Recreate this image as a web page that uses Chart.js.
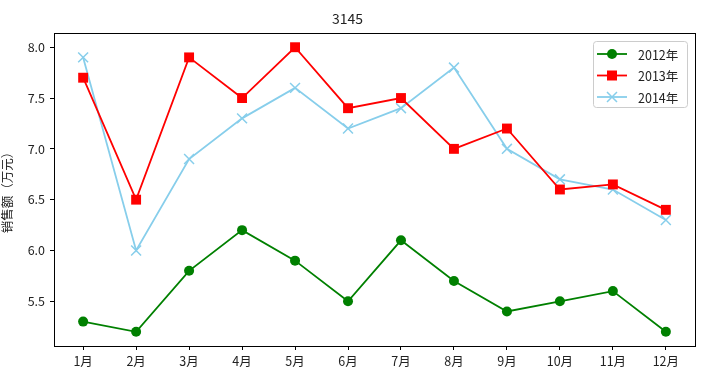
<!DOCTYPE html>
<html>
<head>
<meta charset="utf-8">
<script src="https://cdn.jsdelivr.net/npm/chart.js@4/dist/chart.umd.min.js"></script>
<style>
    html, body { margin: 0; padding: 0; background: #fff; }
    #wrap { width: 708px; height: 386px; }
</style>
</head>
<body>
<div id="wrap"><canvas id="chart" width="708" height="386"></canvas></div>
<script>
// data
const months = ['1月', '2月', '3月', '4月', '5月', '6月', '7月', '8月', '9月', '10月', '11月', '12月'];
const sales2012 = [5.3, 5.2, 5.8, 6.2, 5.9, 5.5, 6.1, 5.7, 5.4, 5.5, 5.6, 5.2];
const sales2013 = [7.7, 6.5, 7.9, 7.5, 8.0, 7.4, 7.5, 7.0, 7.2, 6.6, 6.65, 6.4];
const sales2014 = [7.9, 6.0, 6.9, 7.3, 7.6, 7.2, 7.4, 7.8, 7.0, 6.7, 6.6, 6.3];
const seriesNames = ['2012年', '2013年', '2014年'];
const yTicks = [5.5, 6.0, 6.5, 7.0, 7.5, 8.0];

const FONT = '"Noto Sans CJK SC", "DejaVu Sans", sans-serif';

const toPoints = arr => arr.map((v, i) => ({ x: i, y: v }));

// Marker drawing shared by the legend
function drawMarker(ctx, style, x, y, color) {
    ctx.save();
    ctx.fillStyle = color;
    ctx.strokeStyle = color;
    ctx.lineWidth = 1.5;
    ctx.beginPath();
    if (style === 'circle') {
        ctx.arc(x, y, 5, 0, Math.PI * 2);
        ctx.fill();
    } else if (style === 'rect') {
        ctx.rect(x - 5, y - 5, 10, 10);
        ctx.fill();
    } else {
        ctx.moveTo(x - 5, y - 5); ctx.lineTo(x + 5, y + 5);
        ctx.moveTo(x + 5, y - 5); ctx.lineTo(x - 5, y + 5);
        ctx.stroke();
    }
    ctx.restore();
}

// Frame round the plot + legend box in the top right corner
const framePlugin = {
    id: 'frame',
    afterDatasetsDraw(chart) {
        const ctx = chart.ctx;
        const a = chart.chartArea;
        ctx.save();
        ctx.strokeStyle = '#000';
        ctx.lineWidth = 1;
        ctx.strokeRect(Math.round(a.left) + 0.5, Math.round(a.top) + 0.5,
            Math.round(a.right - a.left), Math.round(a.bottom - a.top));

        // legend
        const bx = a.right - 102, by = a.top + 8, bw = 94, bh = 66;
        ctx.fillStyle = 'rgba(255,255,255,0.8)';
        ctx.strokeStyle = '#cccccc';
        ctx.beginPath();
        ctx.roundRect(bx + 0.5, by + 0.5, bw, bh, 3);
        ctx.fill();
        ctx.stroke();

        ctx.font = '12.5px ' + FONT;
        ctx.textBaseline = 'middle';
        ctx.textAlign = 'left';
        chart.data.datasets.forEach((ds, i) => {
            const y = by + 13 + i * 21.5;
            ctx.strokeStyle = ds.borderColor;
            ctx.lineWidth = 1.8;
            ctx.beginPath();
            ctx.moveTo(bx + 4, y);
            ctx.lineTo(bx + 34, y);
            ctx.stroke();
            drawMarker(ctx, ds.pointStyle, bx + 19, y, ds.borderColor);
            ctx.fillStyle = '#222';
            ctx.fillText(ds.label, bx + 45, y + 1);
        });
        ctx.restore();
    }
};

const ctx = document.getElementById('chart').getContext('2d');
new Chart(ctx, {
    type: 'line',
    data: {
        datasets: [
            {
                label: seriesNames[0],
                data: toPoints(sales2012),
                borderColor: '#008000',
                backgroundColor: '#008000',
                pointStyle: 'circle',
                pointRadius: 5,
                pointBorderWidth: 0,
                borderWidth: 1.8
            },
            {
                label: seriesNames[1],
                data: toPoints(sales2013),
                borderColor: '#ff0000',
                backgroundColor: '#ff0000',
                pointStyle: 'rect',
                pointRadius: 7,
                pointBorderWidth: 0,
                borderWidth: 1.8
            },
            {
                label: seriesNames[2],
                data: toPoints(sales2014),
                borderColor: '#87ceeb',
                backgroundColor: '#87ceeb',
                pointStyle: 'crossRot',
                pointRadius: 7,
                pointBorderWidth: 1.5,
                borderWidth: 1.8
            }
        ]
    },
    options: {
        responsive: false,
        animation: false,
        layout: { padding: { left: 0, right: 13, top: 0, bottom: 0 } },
        plugins: {
            legend: { display: false },
            tooltip: { enabled: false },
            title: {
                display: true,
                text: '3145',
                color: '#222',
                font: { family: FONT, size: 14, weight: 'normal' },
                padding: { top: 10, bottom: 6.2 }
            }
        },
        scales: {
            x: {
                type: 'linear',
                min: -0.55,
                max: 11.55,
                afterFit: s => { s.height = 40; },
                afterBuildTicks: s => { s.ticks = months.map((m, i) => ({ value: i })); },
                ticks: {
                    callback: v => months[v],
                    color: '#222',
                    padding: 4,
                    maxRotation: 0,
                    autoSkip: false,
                    font: { family: FONT, size: 12.5 }
                },
                grid: { drawOnChartArea: false, drawTicks: true, tickLength: 4, color: '#000' },
                border: { color: '#000' }
            },
            y: {
                min: 5.06,
                max: 8.14,
                afterFit: s => { s.width = 54; },
                afterBuildTicks: s => { s.ticks = yTicks.map(v => ({ value: v })); },
                ticks: {
                    callback: v => v.toFixed(1),
                    color: '#222',
                    padding: 5,
                    font: { family: FONT, size: 12.5 }
                },
                title: {
                    display: true,
                    text: '销售额（万元）',
                    color: '#222',
                    font: { family: FONT, size: 12.5 },
                    padding: { top: 0, bottom: 2 }
                },
                grid: { drawOnChartArea: false, drawTicks: true, tickLength: 4, color: '#000' },
                border: { color: '#000' }
            }
        }
    },
    plugins: [framePlugin]
});
</script>
</body>
</html>
